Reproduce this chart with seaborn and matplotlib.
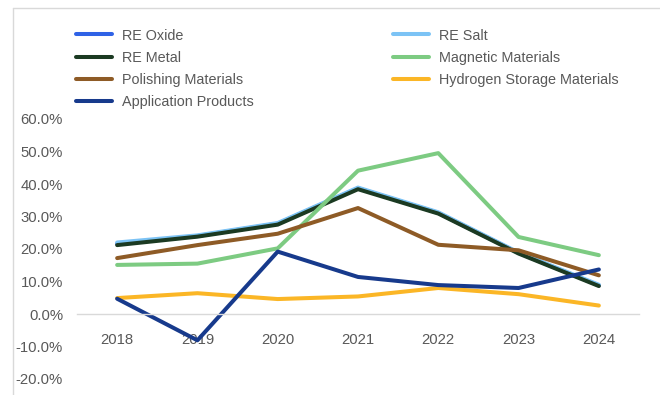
import matplotlib
matplotlib.use("Agg")
import matplotlib.pyplot as plt
from matplotlib.lines import Line2D
import seaborn as sns
import pandas as pd

# Year-over-year growth by rare-earth product segment (%)
years = ["2018", "2019", "2020", "2021", "2022", "2023", "2024"]
re_oxide = [21.6, 24.0, 27.8, 38.7, 31.1, 18.8, 8.8]
re_salt = [22.0, 24.2, 28.0, 38.9, 31.3, 18.9, 9.0]
re_metal = [21.2, 23.8, 27.5, 38.4, 30.9, 18.6, 8.6]
magnetic = [15.1, 15.5, 20.2, 44.1, 49.5, 23.7, 18.1]
polishing = [17.2, 21.2, 24.7, 32.6, 21.3, 19.6, 11.9]
hydrogen = [4.9, 6.4, 4.6, 5.4, 8.0, 6.1, 2.6]
application = [4.7, -8.1, 19.2, 11.4, 8.9, 8.0, 13.7]

series_names = ["RE Oxide", "RE Salt", "RE Metal", "Magnetic Materials",
                "Polishing Materials", "Hydrogen Storage Materials",
                "Application Products"]
series_values = [re_oxide, re_salt, re_metal, magnetic, polishing,
                 hydrogen, application]
colors = ["#2F62E6", "#7CC3F5", "#1B3A22", "#7DCB82", "#8E5B26",
          "#FBB626", "#173A8C"]

df = pd.DataFrame({
    "Year": [y for _ in series_names for y in years],
    "Growth": [v for vals in series_values for v in vals],
    "Series": [n for n in series_names for _ in years],
})

sns.set_theme(style="white")
plt.rcParams["font.family"] = ["Liberation Sans", "DejaVu Sans"]
text_gray = "#595959"

W, H = 660, 395
fig = plt.figure(figsize=(W / 100, H / 100), dpi=100)
ax = fig.add_axes([77 / W, 1 - 379 / H, (639 - 77) / W, (379 - 119) / H])

sns.lineplot(data=df, x="Year", y="Growth", hue="Series",
             hue_order=series_names, palette=colors, linewidth=2.9,
             sort=False, legend=False, ax=ax)

ax.set_xlim(-0.5, 6.5)
ax.set_ylim(-20, 60)
ax.set_yticks(range(-20, 61, 10))
ax.set_yticklabels([f"{v:.1f}%" for v in range(-20, 61, 10)])
ax.set_xlabel("")
ax.set_ylabel("")

for side in ["top", "right", "left"]:
    ax.spines[side].set_visible(False)
ax.spines["bottom"].set_position(("data", 0))
ax.spines["bottom"].set_color("#D9D9D9")
ax.spines["bottom"].set_linewidth(1.0)
ax.tick_params(axis="x", length=0, pad=14, labelsize=10.7, labelcolor=text_gray)
ax.tick_params(axis="y", length=0, pad=10, labelsize=10.7, labelcolor=text_gray)
ax.grid(False)

# Legend in two columns above the plot area
legend_font = {"family": ["Liberation Sans", "DejaVu Sans"], "size": 10.4}
handles = {n: Line2D([], [], color=c, linewidth=2.9, solid_capstyle="round")
           for n, c in zip(series_names, colors)}
col1 = ["RE Oxide", "RE Metal", "Polishing Materials", "Application Products"]
col2 = ["RE Salt", "Magnetic Materials", "Hydrogen Storage Materials"]
for names, x0 in [(col1, 76), (col2, 393)]:
    leg = fig.legend([handles[n] for n in names], names, loc="upper left",
                     bbox_to_anchor=(x0 / W, 1 - 28.5 / H), frameon=False,
                     prop=legend_font, handlelength=2.5, handletextpad=0.68,
                     labelspacing=0.56, borderpad=0, borderaxespad=0)
    for t in leg.get_texts():
        t.set_color(text_gray)

# Chart frame
fig.add_artist(Line2D([12.5 / W, 12.5 / W], [0, 1 - 8 / H], color="#D9D9D9",
                      linewidth=1.0, transform=fig.transFigure))
fig.add_artist(Line2D([12.5 / W, 1], [1 - 8 / H, 1 - 8 / H], color="#D9D9D9",
                      linewidth=1.0, transform=fig.transFigure))

fig.savefig("out.png", dpi=100)
